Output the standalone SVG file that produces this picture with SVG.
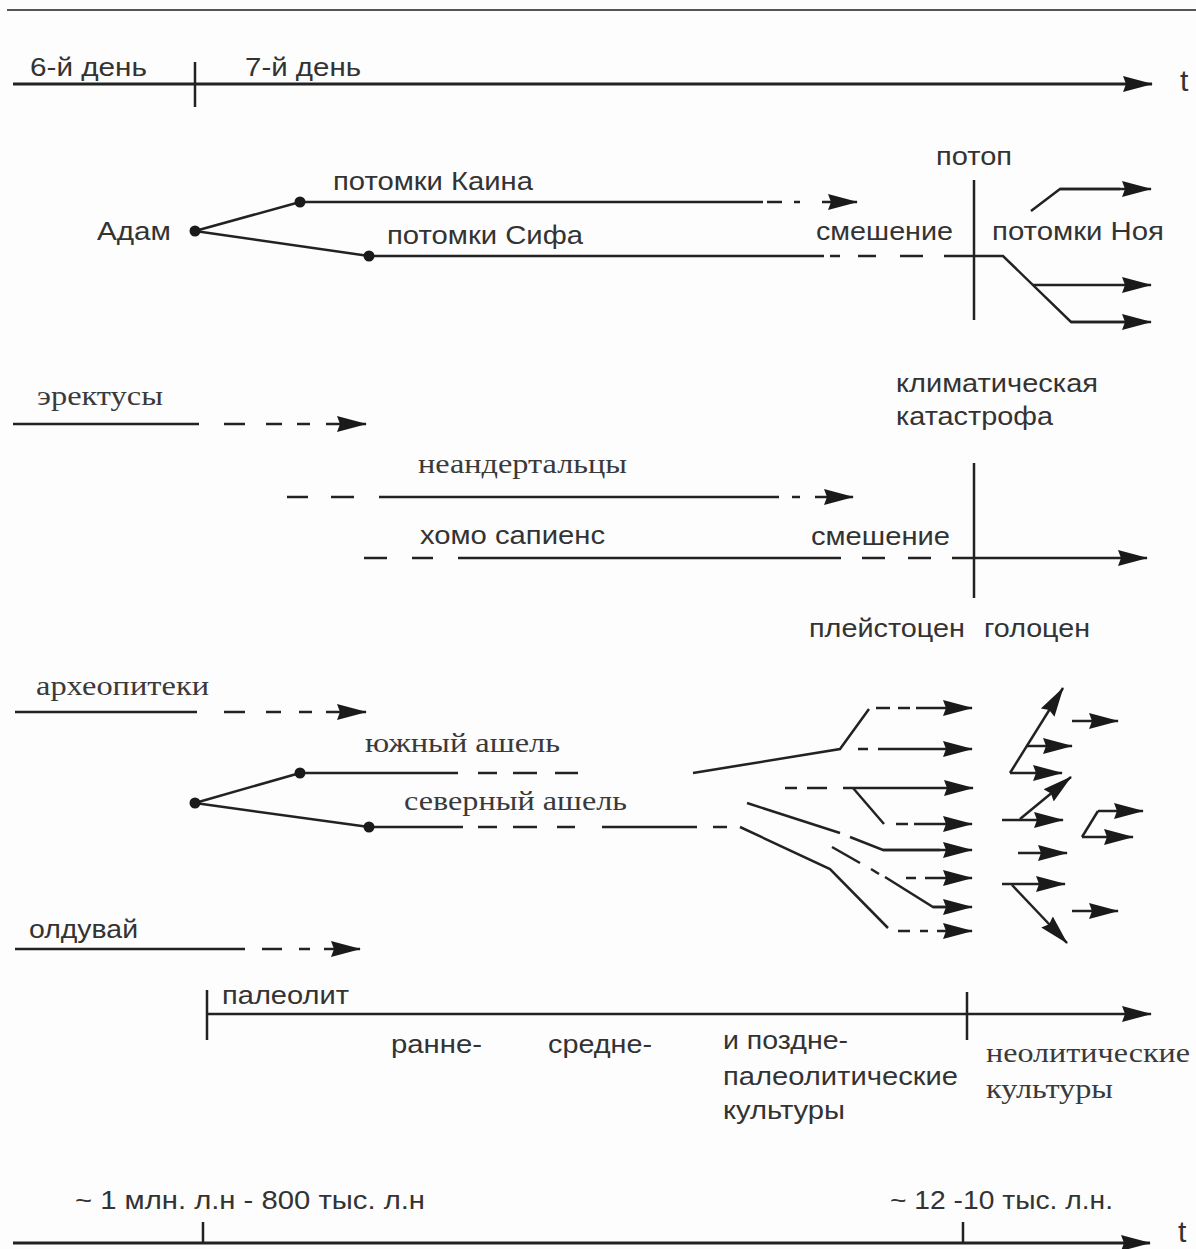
<svg xmlns="http://www.w3.org/2000/svg" width="1196" height="1249" viewBox="0 0 1196 1249">
<style>
.ln{stroke:#222;stroke-width:2.5;fill:none}
.ax{stroke:#222;stroke-width:3;fill:none}
.tk{stroke:#222;stroke-width:2.5}
.ar{marker-end:url(#ah)}
.s{font-family:"Liberation Sans",Arial,sans-serif;font-size:26px;fill:#333}
.r{font-family:"Liberation Serif","Times New Roman",serif;font-size:28px;fill:#3a3a3a}
.t{font-family:"Liberation Sans",Arial,sans-serif;font-size:30px;fill:#333}
.dot{fill:#1a1a1a}
</style>
<defs>
<marker id="ah" viewBox="0 0 30 18" refX="29" refY="9" markerWidth="30" markerHeight="18" markerUnits="userSpaceOnUse" orient="auto">
<path d="M0,1 L30,9 L0,17 L3,9 z" fill="#1a1a1a"/>
</marker>
</defs>
<rect width="1196" height="1249" fill="#fdfdfd"/>
<line x1="7" y1="10" x2="1196" y2="10" stroke="#555" stroke-width="2"/>

<g id="connectors">
<!-- top axis -->
<line class="ax ar" x1="13" y1="84" x2="1152" y2="84"/>
<line class="tk" x1="195" y1="62" x2="195" y2="107"/>
<!-- Adam branches -->
<line class="ln" x1="195" y1="231" x2="300" y2="202"/>
<line class="ln" x1="195" y1="231" x2="369" y2="256"/>
<!-- Kain -->
<line class="ln" x1="300" y1="202" x2="763" y2="202"/>
<line class="ln" x1="767" y1="202" x2="782" y2="202"/>
<line class="ln" x1="794" y1="202" x2="800" y2="202"/>
<line class="ln ar" x1="822" y1="202" x2="857" y2="202"/>
<!-- Sif -->
<line class="ln" x1="369" y1="256" x2="824" y2="256"/>
<line class="ln" x1="830" y1="256" x2="840" y2="256"/>
<line class="ln" x1="858" y1="256" x2="876" y2="256"/>
<line class="ln" x1="900" y1="256" x2="923" y2="256"/>
<polyline class="ln" points="944,256 1003,256 1071,322 1125,322"/>
<line class="ln ar" x1="1071" y1="322" x2="1151" y2="322"/>
<line class="ln ar" x1="1033" y1="285" x2="1151" y2="285"/>
<polyline class="ln" points="1031,211 1060,189 1120,189"/>
<line class="ln ar" x1="1060" y1="189" x2="1151" y2="189"/>
<line class="tk" x1="974" y1="180" x2="974" y2="320"/>
<!-- erectus -->
<line class="ln" x1="13" y1="424" x2="199" y2="424"/>
<line class="ln" x1="224" y1="424" x2="245" y2="424"/>
<line class="ln" x1="266" y1="424" x2="282" y2="424"/>
<line class="ln" x1="297" y1="424" x2="310" y2="424"/>
<line class="ln ar" x1="326" y1="424" x2="366" y2="424"/>
<!-- neanderthals -->
<line class="ln" x1="287" y1="497" x2="308" y2="497"/>
<line class="ln" x1="331" y1="497" x2="354" y2="497"/>
<line class="ln" x1="379" y1="497" x2="779" y2="497"/>
<line class="ln" x1="792" y1="497" x2="800" y2="497"/>
<line class="ln ar" x1="815" y1="497" x2="853" y2="497"/>
<!-- sapiens -->
<line class="ln" x1="364" y1="558" x2="387" y2="558"/>
<line class="ln" x1="412" y1="558" x2="433" y2="558"/>
<line class="ln" x1="458" y1="558" x2="841" y2="558"/>
<line class="ln" x1="862" y1="558" x2="885" y2="558"/>
<line class="ln" x1="908" y1="558" x2="931" y2="558"/>
<line class="ln ar" x1="952" y1="558" x2="1147" y2="558"/>
<line class="tk" x1="974" y1="463" x2="974" y2="598"/>
<!-- archeopithecus -->
<line class="ln" x1="15" y1="712" x2="197" y2="712"/>
<line class="ln" x1="224" y1="712" x2="245" y2="712"/>
<line class="ln" x1="266" y1="712" x2="281" y2="712"/>
<line class="ln" x1="299" y1="712" x2="312" y2="712"/>
<line class="ln ar" x1="326" y1="712" x2="366" y2="712"/>
<!-- acheul -->
<line class="ln" x1="195" y1="803" x2="300" y2="773"/>
<line class="ln" x1="195" y1="803" x2="369" y2="827"/>
<line class="ln" x1="300" y1="773" x2="458" y2="773"/>
<line class="ln" x1="478" y1="773" x2="497" y2="773"/>
<line class="ln" x1="513" y1="773" x2="537" y2="773"/>
<line class="ln" x1="555" y1="773" x2="578" y2="773"/>
<line class="ln" x1="369" y1="827" x2="463" y2="827"/>
<line class="ln" x1="478" y1="827" x2="497" y2="827"/>
<line class="ln" x1="513" y1="827" x2="537" y2="827"/>
<line class="ln" x1="557" y1="827" x2="575" y2="827"/>
<line class="ln" x1="602" y1="827" x2="697" y2="827"/>
<line class="ln" x1="713" y1="827" x2="727" y2="827"/>
<!-- olduvai -->
<line class="ln" x1="15" y1="949" x2="245" y2="949"/>
<line class="ln" x1="262" y1="949" x2="282" y2="949"/>
<line class="ln" x1="299" y1="949" x2="310" y2="949"/>
<line class="ln ar" x1="324" y1="949" x2="360" y2="949"/>
<!-- fan column 1 -->
<polyline class="ln" points="693,773 840,749 869,709"/>
<line class="ln" x1="876" y1="708" x2="890" y2="708"/>
<line class="ln" x1="898" y1="708" x2="910" y2="708"/>
<line class="ln ar" x1="916" y1="708" x2="972" y2="708"/>
<line class="ln" x1="858" y1="749" x2="868" y2="749"/>
<line class="ln ar" x1="878" y1="749" x2="972" y2="749"/>
<line class="ln" x1="785" y1="788" x2="797" y2="788"/>
<line class="ln" x1="807" y1="788" x2="827" y2="788"/>
<line class="ln ar" x1="843" y1="788" x2="973" y2="788"/>
<line class="ln" x1="853" y1="788" x2="884" y2="824"/>
<line class="ln" x1="896" y1="824" x2="908" y2="824"/>
<line class="ln ar" x1="914" y1="824" x2="972" y2="824"/>
<line class="ln" x1="747" y1="803" x2="840" y2="833"/>
<polyline class="ln" points="850,837 883,850 940,850"/>
<line class="ln ar" x1="883" y1="850" x2="972" y2="850"/>
<line class="ln" x1="832" y1="847" x2="860" y2="863"/>
<line class="ln" x1="871" y1="869" x2="879" y2="874"/>
<polyline class="ln" points="885,877 933,907 945,907"/>
<line class="ln ar" x1="933" y1="907" x2="972" y2="907"/>
<line class="ln" x1="906" y1="878" x2="916" y2="878"/>
<line class="ln ar" x1="925" y1="878" x2="972" y2="878"/>
<polyline class="ln" points="740,827 830,869 888,928"/>
<line class="ln" x1="898" y1="931" x2="910" y2="931"/>
<line class="ln" x1="920" y1="931" x2="928" y2="931"/>
<line class="ln ar" x1="937" y1="931" x2="972" y2="931"/>
<!-- fan column 2 -->
<line class="ln ar" x1="1010" y1="773" x2="1062" y2="773"/>
<line class="ln ar" x1="1010" y1="773" x2="1063" y2="688"/>
<line class="ln ar" x1="1027" y1="746" x2="1072" y2="746"/>
<line class="ln ar" x1="1072" y1="721" x2="1118" y2="721"/>
<line class="ln ar" x1="1002" y1="820" x2="1063" y2="820"/>
<line class="ln ar" x1="1020" y1="819" x2="1071" y2="777"/>
<line class="ln ar" x1="1082" y1="837" x2="1133" y2="837"/>
<line class="ln" x1="1082" y1="837" x2="1098" y2="811"/>
<line class="ln ar" x1="1098" y1="811" x2="1143" y2="811"/>
<line class="ln ar" x1="1018" y1="853" x2="1067" y2="853"/>
<line class="ln ar" x1="1002" y1="884" x2="1065" y2="884"/>
<line class="ln ar" x1="1012" y1="885" x2="1067" y2="943"/>
<line class="ln ar" x1="1072" y1="911" x2="1118" y2="911"/>
<!-- paleolith axis -->
<line class="ln ar" x1="207" y1="1014" x2="1151" y2="1014"/>
<line class="tk" x1="207" y1="990" x2="207" y2="1040"/>
<line class="tk" x1="967" y1="992" x2="967" y2="1040"/>
<!-- bottom axis -->
<line class="ax ar" x1="13" y1="1243" x2="1150" y2="1243"/>
<line class="tk" x1="203" y1="1222" x2="203" y2="1243"/>
<line class="tk" x1="963" y1="1222" x2="963" y2="1243"/>
</g>

<g id="node-adam"><circle class="dot" cx="195" cy="231" r="5.5"/><text class="s" x="97" y="240" textLength="74" lengthAdjust="spacingAndGlyphs">Адам</text></g>
<g id="node-kain"><circle class="dot" cx="300" cy="202" r="5.5"/><text class="s" x="333" y="190" textLength="200" lengthAdjust="spacingAndGlyphs">потомки Каина</text></g>
<g id="node-sif"><circle class="dot" cx="369" cy="256" r="5.5"/><text class="s" x="387" y="244" textLength="196" lengthAdjust="spacingAndGlyphs">потомки Сифа</text></g>
<g id="node-acheul-root"><circle class="dot" cx="195" cy="803" r="5.5"/></g>
<g id="node-acheul-south"><circle class="dot" cx="300" cy="773" r="5.5"/><text class="r" x="365" y="752" textLength="195" lengthAdjust="spacingAndGlyphs">южный ашель</text></g>
<g id="node-acheul-north"><circle class="dot" cx="369" cy="827" r="5.5"/><text class="r" x="404" y="810" textLength="223" lengthAdjust="spacingAndGlyphs">северный ашель</text></g>

<g id="labels">
<text class="s" x="30" y="76" textLength="117" lengthAdjust="spacingAndGlyphs">6-й день</text>
<text class="s" x="245" y="76" textLength="116" lengthAdjust="spacingAndGlyphs">7-й день</text>
<text class="t" x="1180" y="91">t</text>
<text class="s" x="936" y="165" textLength="76" lengthAdjust="spacingAndGlyphs">потоп</text>
<text class="s" x="816" y="240" textLength="137" lengthAdjust="spacingAndGlyphs">смешение</text>
<text class="s" x="992" y="240" textLength="172" lengthAdjust="spacingAndGlyphs">потомки Ноя</text>
<text class="r" x="37" y="405" textLength="126" lengthAdjust="spacingAndGlyphs">эректусы</text>
<text class="s" x="896" y="392" textLength="202" lengthAdjust="spacingAndGlyphs">климатическая</text>
<text class="s" x="896" y="425" textLength="157" lengthAdjust="spacingAndGlyphs">катастрофа</text>
<text class="r" x="418" y="473" textLength="209" lengthAdjust="spacingAndGlyphs">неандертальцы</text>
<text class="s" x="420" y="544" textLength="185" lengthAdjust="spacingAndGlyphs">хомо сапиенс</text>
<text class="s" x="811" y="545" textLength="139" lengthAdjust="spacingAndGlyphs">смешение</text>
<text class="s" x="809" y="637" textLength="156" lengthAdjust="spacingAndGlyphs">плейстоцен</text>
<text class="s" x="984" y="637" textLength="106" lengthAdjust="spacingAndGlyphs">голоцен</text>
<text class="r" x="36" y="695" textLength="173" lengthAdjust="spacingAndGlyphs">археопитеки</text>
<text class="s" x="29" y="938" textLength="109" lengthAdjust="spacingAndGlyphs">олдувай</text>
<text class="s" x="222" y="1004" textLength="127" lengthAdjust="spacingAndGlyphs">палеолит</text>
<text class="s" x="391" y="1053" textLength="91" lengthAdjust="spacingAndGlyphs">ранне-</text>
<text class="s" x="548" y="1053" textLength="104" lengthAdjust="spacingAndGlyphs">средне-</text>
<text class="s" x="723" y="1049" textLength="125" lengthAdjust="spacingAndGlyphs">и поздне-</text>
<text class="s" x="723" y="1085" textLength="235" lengthAdjust="spacingAndGlyphs">палеолитические</text>
<text class="s" x="723" y="1119" textLength="122" lengthAdjust="spacingAndGlyphs">культуры</text>
<text class="r" x="986" y="1062" textLength="204" lengthAdjust="spacingAndGlyphs">неолитические</text>
<text class="r" x="986" y="1098" textLength="127" lengthAdjust="spacingAndGlyphs">культуры</text>
<text class="s" x="75" y="1209" textLength="350" lengthAdjust="spacingAndGlyphs">~ 1 млн. л.н - 800 тыс. л.н</text>
<text class="s" x="890" y="1209" textLength="223" lengthAdjust="spacingAndGlyphs">~ 12 -10 тыс. л.н.</text>
<text class="t" x="1178" y="1242">t</text>
</g>
</svg>
